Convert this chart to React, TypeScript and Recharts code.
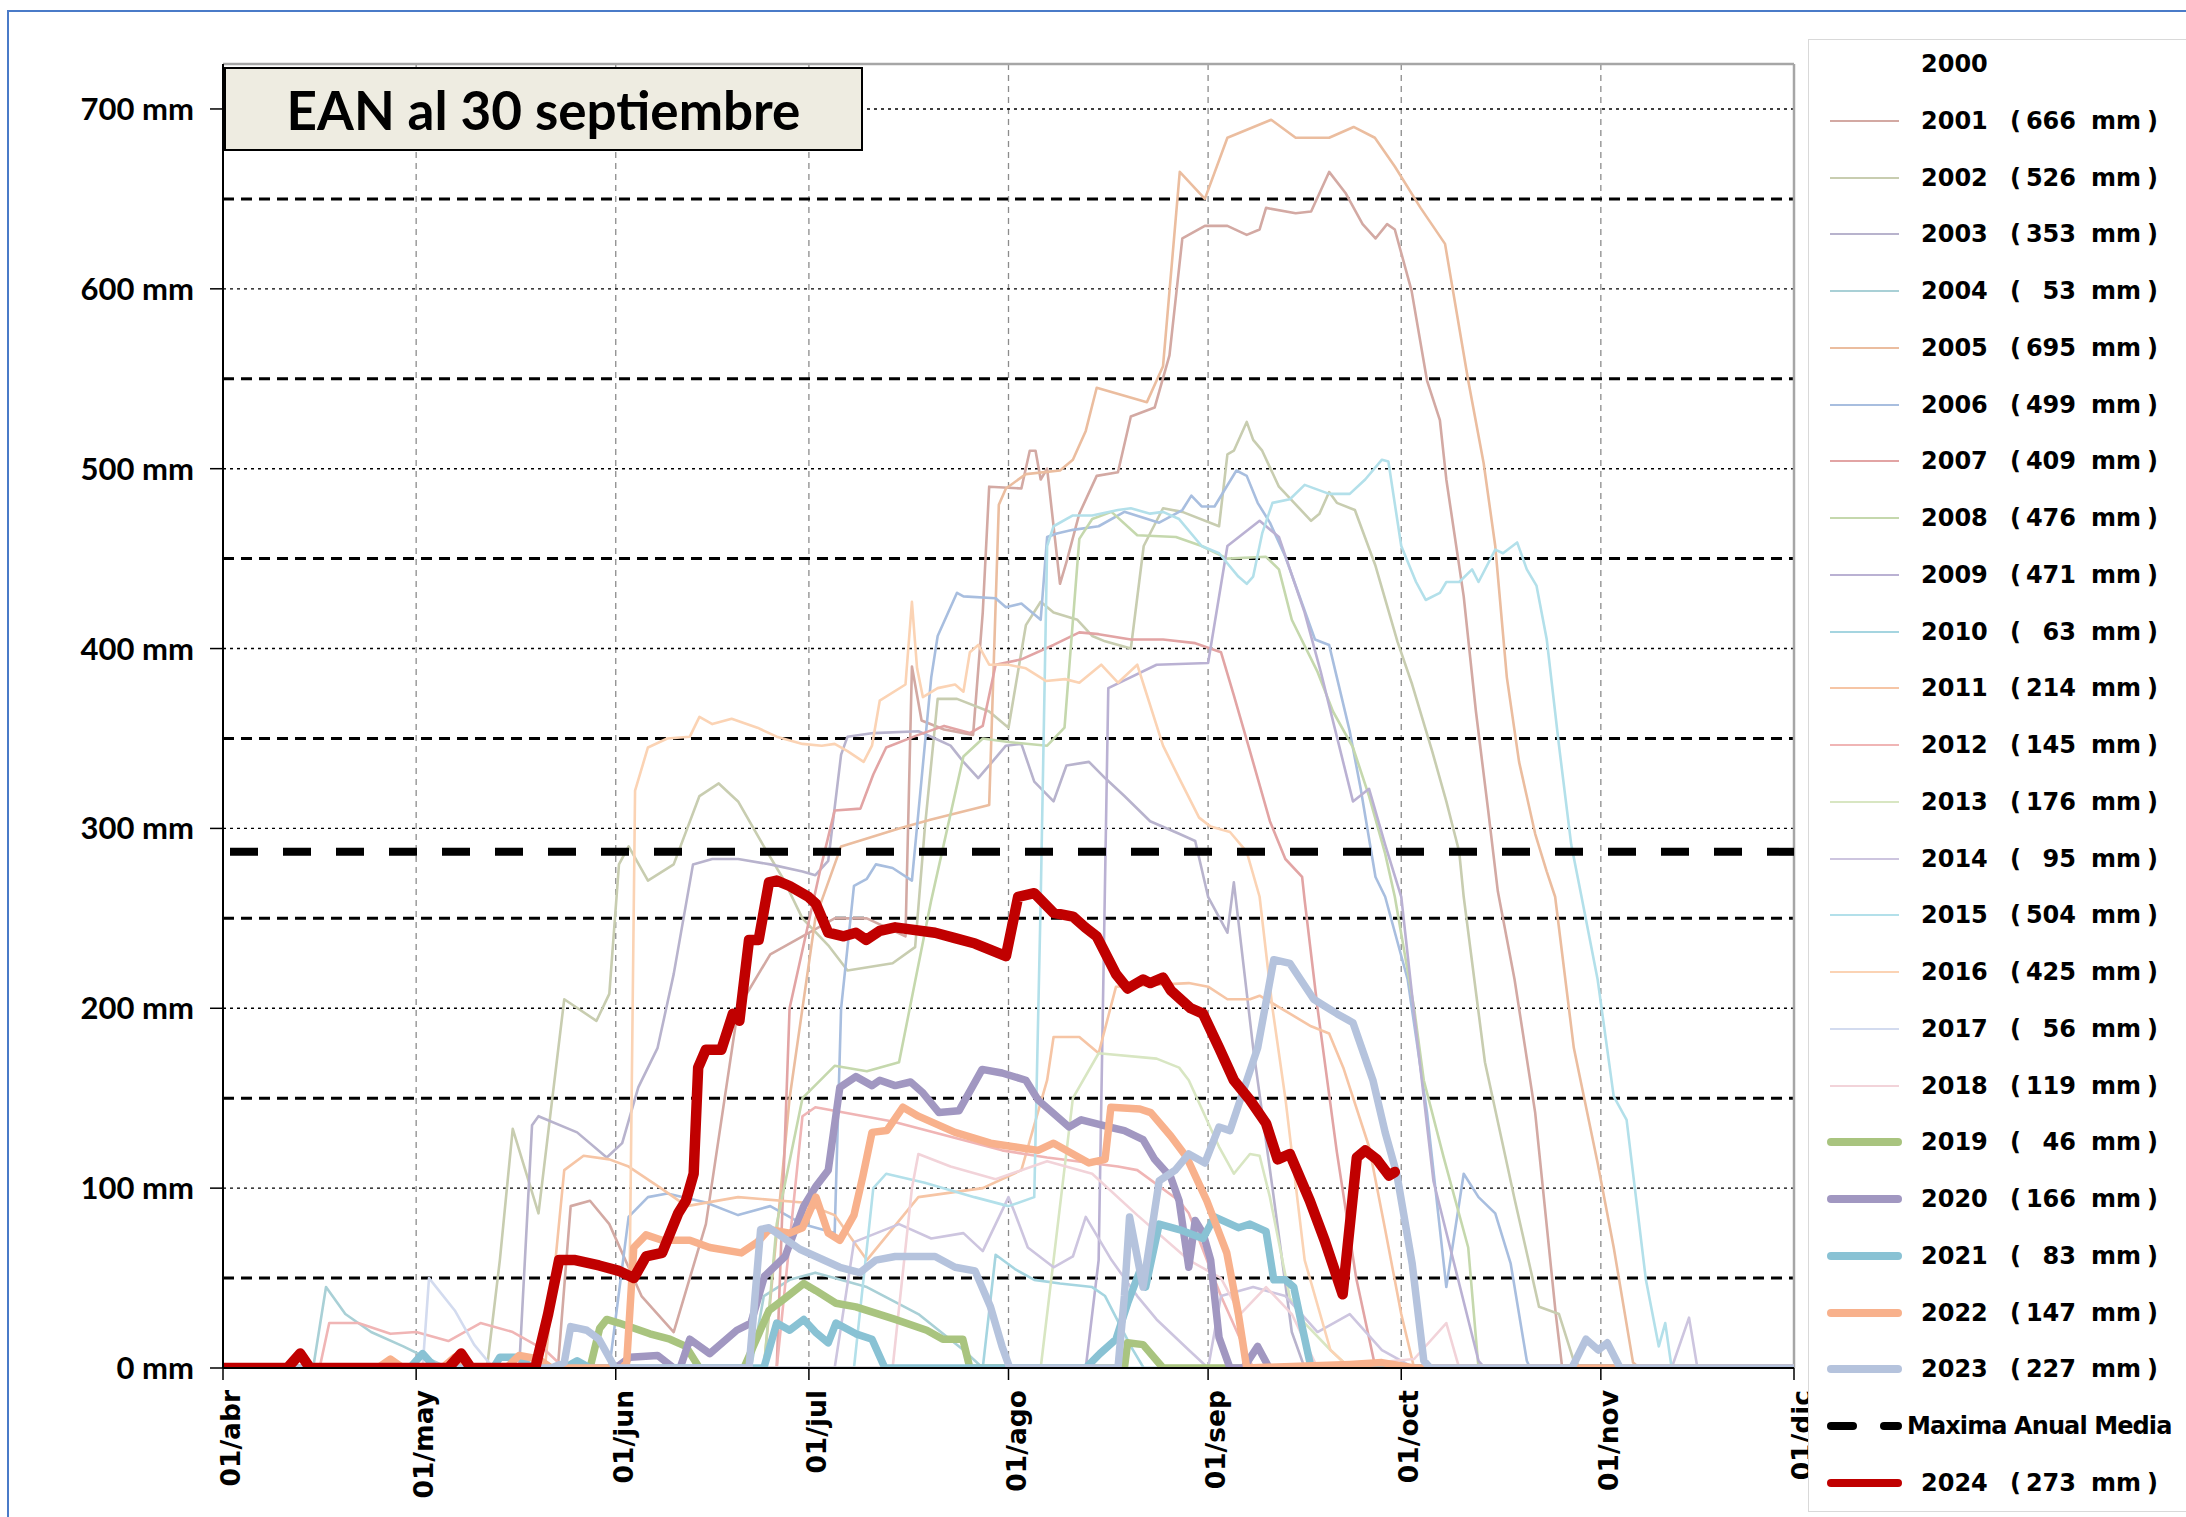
import React from "react";
import { LineChart, Line, XAxis, YAxis, ReferenceLine } from "recharts";

// days counted from 01/abr
const monthTicks = [0, 30, 61, 91, 122, 153, 183, 214, 244];
const monthLabels = ["01/abr", "01/may", "01/jun", "01/jul", "01/ago", "01/sep", "01/oct", "01/nov", "01/dic"];
const yTicks = [0, 100, 200, 300, 400, 500, 600, 700];
const halfTicks = [50, 150, 250, 350, 450, 550, 650];
const meanMax = 287;

type P = [number, number][];

const y2001: P = [[0,0],[52,0],[54,90],[57,93],[60,80],[65,40],[70,20],[75,80],[80,200],[85,230],[90,240],[95,250],[100,250],[106,240],[107,390],[108.5,360],[112,355],[116.5,352],[118,420],[119,490],[124,489],[125.3,510],[126.2,510],[127,494],[128,500],[130,436],[131,448],[133,475],[135.7,496],[139,498],[141,529],[144.7,534],[147,563],[149,628],[152.5,635],[156,635],[159,630],[161,633],[162,645],[166.6,642],[169,643],[171.8,665],[174.4,653],[177,636],[179,628],[180.8,636],[182,633],[184.6,599],[187,549],[189,527],[190,494],[192.7,429],[194.6,365],[196.5,310],[198,265],[200.6,216],[203.8,142],[207,30],[208,0],[244,0]];
const y2002: P = [[0,0],[41,0],[43,60],[45,133],[49,86],[53,205],[58,193],[60,208],[61.5,280],[63,290],[66,271],[70,280],[74,318],[77,325],[80,315],[84,290],[87,272],[90,250],[94,235],[97,221],[104,225],[107.5,234],[109,300],[111,372],[114,372],[119,365],[122,356],[124.7,413],[127,426],[129,420],[132.7,416],[135,407],[137,404],[141,400],[143,457],[146,478],[149,476],[154.7,468],[156,508],[157,510],[159,526],[160,516],[161.4,510],[164,490],[169,471],[170.3,475],[171.8,487],[173,481],[175.8,477],[179,446],[182.4,404],[184.7,380],[187.8,343],[190,315],[192,287],[192.7,262],[196,170],[200.6,94],[204.4,34],[207.5,30],[209.8,4],[211,0],[244,0]];
const y2003: P = [[0,0],[46,0],[48,135],[49,140],[55,131],[59.6,117],[62,125],[64.5,156],[67.5,178],[70,219],[73,280],[76,283],[80,283],[85,280],[90,276],[92,274],[94,282],[96,341],[97,351],[101,353],[108,354],[110.6,350],[113,346],[115,337],[117.3,328],[119,335],[121.6,346],[124,347],[126,326],[129,315],[131,335],[134.5,337],[137,328],[140,318],[144,304],[148.5,297],[151,293],[153,262],[156,242],[157,270],[160,178],[163,100],[166,20],[168,0],[244,0]];
const y2004: P = [[0,0],[14,0],[16,45],[19,30],[23,20],[28,12],[32,5],[35,0],[82,0],[84,40],[88,49],[92,53],[100,45],[108,30],[115,10],[118,0],[244,0]];
const y2005: P = [[0,0],[84,0],[88,150],[92,250],[96,290],[105,300],[110,305],[119,313],[120.5,480],[121.6,489],[124.7,497],[130,499],[132,505],[134,521],[135.7,545],[143.5,537],[146,557],[148.6,665],[152.5,650],[156,684],[162.8,694],[166.6,684],[171.8,684],[175.6,690],[178.9,684],[182,668],[186,645],[189.8,625],[193.4,549],[195.8,503],[197.6,457],[199.4,384],[201.3,337],[203.8,297],[205.6,276],[206.9,262],[209.8,178],[213.5,114],[216,67],[219,3],[220,0],[244,0]];
const y2006: P = [[0,0],[60,0],[63,84],[66,95],[69,97],[75,92],[80,85],[85,90],[90,80],[95,75],[96,200],[98,268],[100,272],[101.4,280],[104,278],[107,271],[110,384],[111,407],[114,431],[115,429],[120,428],[121.6,423],[124,425],[127,416],[128,462],[129.5,464],[132,466],[136,468],[140,476],[145.4,470],[149,477],[150.4,485],[152,479],[154,479],[157.4,499],[159,496],[160.7,481],[162.6,470],[165,451],[167,431],[169.6,405],[171.8,402],[173,384],[175,354],[176.7,322],[179,273],[180.5,262],[184,216],[187,142],[190,45],[192.7,108],[195,95],[197.6,86],[200,58],[202.5,4],[203,0],[244,0]];
const y2007: P = [[0,0],[86,0],[88,200],[92.7,276],[95,310],[99,311],[101,330],[103,345],[108,352],[112,357],[116,353],[118,357],[120,391],[124,394],[129,402],[133,409],[136,408],[141,405],[146,405],[151,403],[155,398],[157,374],[159.5,343],[162.6,304],[165,283],[167.6,273],[168,260],[170,200],[173,120],[176,50],[179,0],[244,0]];
const y2008: P = [[0,0],[84,0],[86,80],[90,150],[95,168],[100,165],[105,170],[110,260],[115,340],[118,350],[122,348],[128,346],[130.7,356],[133,461],[135,472],[138,476],[142,463],[148,462],[152,457],[156,450],[162,451],[164,444],[166,416],[170,387],[172.4,365],[175.5,345],[178,318],[180.5,286],[182,262],[185,200],[186.5,160],[189.6,117],[193.4,67],[195,0],[244,0]];
const y2009: P = [[0,0],[134,0],[136,60],[137.5,378],[145,391],[153,392],[156,457],[161,471],[164,462],[168,420],[170.5,387],[175.5,315],[178,322],[180.5,291],[183,262],[185,197],[188,104],[195,4],[196,0],[244,0]];
const y2010: P = [[0,0],[118,0],[120,63],[123,55],[126,49],[130,47],[135,45],[137,40],[141,12],[143,0],[244,0]];
const y2011: P = [[0,0],[50,0],[53,110],[56,118],[60,116],[63,112],[68,100],[72,90],[80,95],[90,92],[95,85],[100,60],[108,95],[118,100],[124,110],[128,160],[129,184],[133,184],[136,175],[138.7,212],[150,214],[153,212],[156,205],[159.5,205],[161,207],[165.7,197],[169,190],[171.8,186],[174,167],[178,123],[180.5,77],[183,30],[185,0],[244,0]];
const y2012: P = [[0,0],[15,0],[16.5,25],[21,25],[26,19],[30,20],[35,15],[40,25],[45,20],[50,10],[53,0],[86,0],[90,140],[92,145],[104,137],[121,121],[128,117],[139,112],[142,110],[148.5,93],[150,86],[155,40],[160,0],[244,0]];
const y2013: P = [[0,0],[127,0],[129,60],[132,150],[136,175],[145,172],[148.5,167],[150,160],[154.7,123],[157,108],[159.5,119],[161,118],[162.6,95],[165.7,39],[168,25],[172,10],[175,0],[244,0]];
const y2014: P = [[0,0],[95,0],[98,70],[105,80],[110,72],[115,75],[118,65],[122,95],[123,86],[125,67],[129,56],[132,62],[134,84],[138,60],[142,40],[145,27],[150,10],[153,0],[155,40],[160,45],[165,40],[170,20],[175,30],[180,10],[185,0],[225,0],[227.7,28],[229,0],[244,0]];
const y2015: P = [[0,0],[98,0],[101,100],[103,108],[109,103],[116.7,95],[122,90],[126,95],[127,260],[128,457],[129,468],[132,474],[135,474],[139,477],[141,478],[144,475],[146,476],[148.5,472],[152,457],[154.7,453],[157.7,440],[159,436],[160,440],[161.4,464],[163,481],[165.7,483],[168,491],[171.8,486],[175,486],[177.4,494],[180,505],[181,504],[183,457],[185.3,437],[186.8,427],[189,431],[190,437],[192,437],[194,444],[195,437],[197.6,455],[198.8,453],[201,459],[202.5,444],[204,435],[205.6,405],[207.5,346],[209.4,291],[211,262],[213.5,216],[216,151],[218,138],[221,49],[223,12],[224,25],[225,0],[244,0]];
const y2016: P = [[0,0],[63,0],[64,321],[66,345],[69,350],[72.5,351],[74,362],[76,358],[79,361],[83,356],[86,351],[90,347],[93,346],[95,347],[97,343],[99.5,337],[100.8,346],[102,371],[106,380],[107,426],[107.8,389],[108.7,373],[111,378],[113.7,380],[115,376],[116,398],[117.3,402],[119,391],[122,391],[124.7,389],[127.8,382],[130.8,383],[133,381],[136.4,391],[139,381],[142,391],[146,346],[148.5,328],[151.6,306],[153.4,301],[156.4,298],[159,287],[161,262],[163,200],[165,150],[168,60],[172,10],[175,0],[244,0]];
const y2017: P = [[0,0],[31,0],[32,50],[36,32],[39,13],[42,0],[244,0]];
const y2018: P = [[0,0],[104,0],[107,100],[108,119],[113,112],[120,105],[128,115],[135,108],[142,85],[150,60],[155,50],[158,30],[162,45],[166,30],[170,0],[185,5],[190,25],[192,0],[244,0]];
const y2019: P = [[0,0],[57,0],[58.5,22],[59.6,27],[61.5,25],[66.3,19],[69.4,16],[71.9,12],[74,0],[80.9,0],[84.8,32],[87,38],[90.2,47],[92.1,43],[95.2,36],[98.3,34],[104.4,27],[109.3,21],[111.8,16],[114.9,16],[116,0],[140,0],[140.5,14],[142.9,13],[146,0],[244,0]];
const y2020: P = [[0,0],[61,0],[63.2,6],[67.5,7],[70,0],[71,0],[72.5,16],[75.6,8],[79.8,21],[82,25],[84.1,51],[87.3,62],[90.2,90],[92.1,101],[94,110],[95.8,156],[98.3,162],[100.8,157],[102,160],[104.4,157],[106.8,159],[108.7,153],[111.2,142],[114.3,143],[117.9,166],[121,164],[124.7,160],[126.6,149],[131.4,134],[133.3,138],[137.6,134],[140,132],[142.9,127],[144.7,116],[147.2,106],[148.5,93],[150,56],[151,82],[152.2,75],[153.4,60],[154.7,17],[156.4,0],[158.5,0],[160.7,12],[162.5,0],[244,0]];
const y2021: P = [[0,0],[29,0],[31,8],[33,0],[42,0],[43,6],[46,6],[48,0],[53,0],[55,4],[57,0],[84,0],[86,25],[88,21],[90.2,27],[92,20],[94,14],[95.2,25],[98.3,19],[100.8,16],[102.8,0],[134,0],[136.2,8],[138.7,16],[140.5,36],[142.4,54],[143.3,45],[145.4,80],[148.5,77],[152.2,72],[154,84],[157.7,78],[159.5,80],[162,76],[163.2,49],[165,49],[166.3,45],[167.6,23],[169,0],[244,0]];
const y2022: P = [[0,0],[24,0],[26,5],[28,0],[34,0],[36,6],[38,0],[44,0],[46,7],[49,5],[51,0],[62,0],[62.7,3],[63.8,67],[65.7,74],[68.2,71],[72.5,71],[75.6,67],[80.5,64],[83,70],[84.8,77],[88,75],[90,78],[92.1,95],[94,75],[95.8,71],[98,85],[99.4,107],[100.8,131],[103.1,132],[105.6,145],[108,140],[113.7,131],[119.2,125],[122.8,123],[126.6,121],[129,125],[134.5,114],[137,116],[137.9,145],[142.4,144],[144.1,142],[147.2,129],[149.7,117],[152.8,93],[155.9,64],[157.7,30],[159,0],[175,2],[180,3],[185,0],[244,0]];
const y2023: P = [[0,0],[51,0],[53,3],[54,23],[56.5,21],[58.4,16],[60.9,0],[81.7,0],[83.5,77],[84.8,78],[89.6,66],[95.8,56],[98.9,53],[101.4,60],[104.4,62],[110.6,62],[113.7,56],[116.8,54],[119.2,34],[121,12],[122.2,0],[139,0],[140,40],[140.8,84],[142.9,45],[145.4,104],[147.9,110],[150,119],[152.5,114],[154.7,134],[156.4,132],[160.7,178],[163.2,227],[165.7,225],[169.4,205],[173,197],[175.5,192],[178.6,160],[180.5,131],[182.3,108],[184.7,58],[186.5,4],[187.5,0],[209.5,0],[211.7,16],[213.6,10],[215,14],[217,0],[244,0]];
const y2024: P = [[0,0],[10,0],[12,8],[13.5,0],[35,0],[37,8],[38.5,0],[48.5,0],[50.5,30],[52.2,60],[54.7,60],[58.4,57],[61.5,54],[63.8,50],[65.7,62],[68.2,64],[70.7,86],[71.9,93],[73.1,108],[73.8,167],[75,177],[77.4,177],[79.2,197],[80.2,193],[81.7,238],[83.2,238],[84.8,270],[86,271],[88,268],[90.9,262],[92.1,258],[94,242],[96.4,240],[98.3,242],[99.9,238],[102,243],[104.4,245],[110.6,242],[113.7,239],[116.8,236],[121.6,229],[123.5,262],[126,264],[129,253],[132,251],[133.9,245],[135.7,240],[138.7,219],[140.5,211],[142.9,216],[144,214],[146,217],[147.2,210],[150.3,200],[152.2,197],[154.7,178],[157,160],[159.5,149],[162,136],[163.8,116],[165.7,119],[168.8,93],[171.1,71],[173.9,41],[176.1,117],[177.4,121],[179.2,116],[181.1,107],[182,109]];

const legendYears = ["2000","2001","2002","2003","2004","2005","2006","2007","2008","2009","2010","2011","2012","2013","2014","2015","2016","2017","2018","2019","2020","2021","2022","2023"];
const legendMax = [null,666,526,353,53,695,499,409,476,471,63,214,145,176,95,504,425,56,119,46,166,83,147,227];
const lastYear = "2024";
const lastMax = 273;

const yearColors = ["#ffffff","#d3a9a3","#c8cdb0","#b8b3cd","#a9d0d6","#ebbd9f","#a8bedf","#e2a4a4","#c5d8ad","#bab1d3","#a5d5e0","#f6c5a5","#f0b5b5","#d8e6c2","#cdc5df","#b3e0ea","#fbd3b4","#d3dbef","#f2d3d9","#a9c47f","#a197c1","#89c2d4","#f8b18c","#b5c3dd"];
const color2024 = "#c00000";

const yearData: (P | null)[] = [null, y2001, y2002, y2003, y2004, y2005, y2006, y2007, y2008, y2009, y2010, y2011, y2012, y2013, y2014, y2015, y2016, y2017, y2018, y2019, y2020, y2021, y2022, y2023];

const toPts = (arr: P, key: string) => arr.map(([d, v]) => ({ d, [key]: v }));

const ROW0 = 64;
const ROW_H = 56.76;
const legendFont = "'DejaVu Sans', Verdana, sans-serif";

function XTick(props: any) {
  const { x, y, payload } = props;
  const label = monthLabels[monthTicks.indexOf(payload.value)];
  return (
    <g transform={`translate(${x + 17},${y})`}>
      <text transform="rotate(-90)" textAnchor="end" fontFamily={legendFont} fontWeight="bold" fontSize={26.5} fill="#000">
        {label}
      </text>
    </g>
  );
}

function LegendRow({ i, year, max, color, thick }: { i: number; year: string; max: number | null; color: string | null; thick: boolean }) {
  const cy = ROW0 + i * ROW_H;
  const txt = { position: "absolute" as const, top: cy - 15, lineHeight: "30px", fontFamily: legendFont, fontWeight: 700, fontSize: 24, color: "#000", whiteSpace: "nowrap" as const };
  return (
    <>
      {color && (
        <div style={{ position: "absolute", left: thick ? 1827 : 1830, width: thick ? 75 : 69, top: cy - (thick ? 4 : 1), height: thick ? 8 : 2, background: color, borderRadius: thick ? 4 : 0 }} />
      )}
      <div style={{ ...txt, left: 1921 }}>{year}</div>
      {max !== null && (
        <>
          <div style={{ ...txt, left: 2010 }}>(</div>
          <div style={{ ...txt, left: 2025, width: 51, textAlign: "right" }}>{max}</div>
          <div style={{ ...txt, left: 2091 }}>mm</div>
          <div style={{ ...txt, left: 2147 }}>)</div>
        </>
      )}
    </>
  );
}

export default function App() {
  const meanPts = toPts([[0, meanMax], [244, meanMax]], "mean");
  return (
    <div style={{ position: "relative", width: 2186, height: 1517, background: "#fff", overflow: "hidden" }}>
      <style>{"body{margin:0}"}</style>
      <div style={{ position: "absolute", left: 7, top: 10, width: 2300, height: 1600, borderTop: "2px solid #4a7bc8", borderLeft: "2px solid #4a7bc8" }} />

      <div style={{ position: "absolute", left: 0, top: 0 }}>
        <LineChart width={1830} height={1517} margin={{ top: 64, right: 36, bottom: 0, left: 0 }}>
          <XAxis
            type="number"
            dataKey="d"
            domain={[0, 244]}
            ticks={monthTicks}
            interval={0}
            allowDataOverflow
            height={149}
            tickSize={12}
            tickMargin={10}
            tick={<XTick />}
            tickLine={{ stroke: "#000", strokeWidth: 1.5 }}
            axisLine={{ stroke: "#000", strokeWidth: 2 }}
          />
          <YAxis
            type="number"
            domain={[0, 725]}
            ticks={yTicks}
            interval={0}
            allowDataOverflow
            width={223}
            tickSize={13}
            tickMargin={16}
            tickFormatter={(v) => `${v} mm`}
            tick={{ fill: "#000", fontSize: 31, fontFamily: "Lato, sans-serif", fontWeight: 700 }}
            tickLine={{ stroke: "#000", strokeWidth: 1.5 }}
            axisLine={{ stroke: "#000", strokeWidth: 2 }}
          />
          {monthTicks.slice(1, -1).map((m) => (
            <ReferenceLine key={`vx${m}`} x={m} stroke="#8c8c8c" strokeWidth={1.3} strokeDasharray="6 5" zIndex={-50} />
          ))}
          {yTicks.slice(1).map((v) => (
            <ReferenceLine key={`hy${v}`} y={v} stroke="#000" strokeWidth={1.4} strokeDasharray="3 4" zIndex={-50} />
          ))}
          {halfTicks.map((v) => (
            <ReferenceLine key={`hh${v}`} y={v} stroke="#000" strokeWidth={3} strokeDasharray="11 7" zIndex={-50} />
          ))}
          <ReferenceLine y={725} stroke="#a6a6a6" strokeWidth={2.5} zIndex={-50} />
          <ReferenceLine x={244} stroke="#a6a6a6" strokeWidth={2.5} zIndex={-50} />

          {yearData.map((arr, i) => {
            if (!arr) return null;
            const key = `y${legendYears[i]}`;
            const thick = i >= 19;
            return (
              <Line
                key={key}
                data={toPts(arr, key)}
                dataKey={key}
                type="linear"
                stroke={yearColors[i]}
                strokeWidth={thick ? 7.5 : 2.6}
                strokeLinejoin="round"
                strokeLinecap="round"
                dot={false}
                activeDot={false}
                isAnimationActive={false}
              />
            );
          })}
          <Line data={meanPts} dataKey="mean" type="linear" stroke="#000" strokeWidth={8} strokeDasharray="28 25" strokeDashoffset={46} dot={false} activeDot={false} isAnimationActive={false} />
          <Line data={toPts(y2024, "y2024")} dataKey="y2024" type="linear" stroke={color2024} strokeWidth={10.5} strokeLinejoin="round" strokeLinecap="round" dot={false} activeDot={false} isAnimationActive={false} />
        </LineChart>
      </div>

      <div style={{ position: "absolute", left: 224, top: 67, width: 635, height: 80, background: "#eeece1", border: "2.5px solid #000", display: "flex", alignItems: "center", justifyContent: "center", fontFamily: "Lato, sans-serif", fontWeight: 700, fontSize: 53, color: "#000" }}>
        EAN al 30 septiembre
      </div>

      <div style={{ position: "absolute", left: 1808, top: 39, width: 400, height: 1471, border: "1.5px solid #d9d9d9", background: "#fff" }} />
      {legendYears.map((yr, i) => (
        <LegendRow key={yr} i={i} year={yr} max={legendMax[i]} color={i === 0 ? null : yearColors[i]} thick={i >= 19} />
      ))}
      <div style={{ position: "absolute", left: 1827, top: ROW0 + 24 * ROW_H - 4, width: 30, height: 8, background: "#000", borderRadius: 4 }} />
      <div style={{ position: "absolute", left: 1880, top: ROW0 + 24 * ROW_H - 4, width: 22, height: 8, background: "#000", borderRadius: 4 }} />
      <div style={{ position: "absolute", left: 1907, top: ROW0 + 24 * ROW_H - 15, lineHeight: "30px", fontFamily: legendFont, fontWeight: 700, fontSize: 24, letterSpacing: -0.9, whiteSpace: "nowrap" }}>
        Maxima Anual Media
      </div>
      <LegendRow i={25} year={lastYear} max={lastMax} color={color2024} thick />
    </div>
  );
}
